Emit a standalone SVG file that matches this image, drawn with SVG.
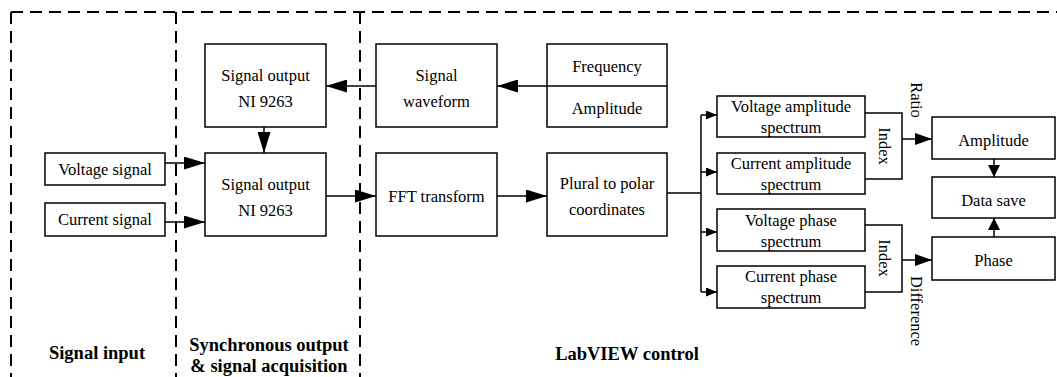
<svg xmlns="http://www.w3.org/2000/svg" width="1057" height="377" viewBox="0 0 1057 377" font-family="Liberation Serif, Times New Roman, DejaVu Serif, serif">
<style>
.box{fill:#fff;stroke:#000;stroke-width:1.5}
.t{font-size:16.5px;text-anchor:middle;fill:#000}
.b{font-size:18.5px;font-weight:bold;text-anchor:middle;fill:#000}
.c{fill:none;stroke:#000;stroke-width:1.5}
.d{fill:none;stroke:#000;stroke-width:2;stroke-dasharray:12 7}
</style>
<defs>
<marker id="big" markerUnits="userSpaceOnUse" markerWidth="21" markerHeight="13" refX="21" refY="6.5" orient="auto"><path d="M0,0 L21,6.5 L0,13 Z" fill="#000"/></marker>
<marker id="med" markerUnits="userSpaceOnUse" markerWidth="17" markerHeight="12" refX="17" refY="6" orient="auto"><path d="M0,0 L17,6 L0,12 Z" fill="#000"/></marker>
<marker id="sm" markerUnits="userSpaceOnUse" markerWidth="12" markerHeight="12" refX="12" refY="6" orient="auto"><path d="M0,0 L12,6 L0,12 Z" fill="#000"/></marker>
<marker id="tiny" markerUnits="userSpaceOnUse" markerWidth="11" markerHeight="9" refX="11" refY="4.5" orient="auto"><path d="M0,0 L11,4.5 L0,9 Z" fill="#000"/></marker>
</defs>
<rect width="1057" height="377" fill="#fff"/>
<g id="regions">
<path class="d" d="M11,12 H1057 M11,12 V377 M176,12 V377 M360,12 V377"/>
<text class="b" x="97" y="359">Signal input</text>
<text class="b" x="269" y="351">Synchronous output</text>
<text class="b" x="269" y="372">&amp; signal acquisition</text>
<text class="b" x="627" y="360">LabVIEW control</text>
</g>
<g id="n-out-top"><rect class="box" x="205" y="44" width="121" height="83"/><text class="t" x="265.5" y="81">Signal output</text><text class="t" x="265.5" y="107">NI 9263</text></g>
<g id="n-out-bot"><rect class="box" x="205" y="153" width="121" height="83"/><text class="t" x="265.5" y="190">Signal output</text><text class="t" x="265.5" y="216">NI 9263</text></g>
<g id="n-voltage"><rect class="box" x="45" y="153" width="120" height="32"/><text class="t" x="105" y="175">Voltage signal</text></g>
<g id="n-current"><rect class="box" x="45" y="203" width="120" height="33"/><text class="t" x="105" y="225">Current signal</text></g>
<g id="n-waveform"><rect class="box" x="376" y="44" width="121" height="83"/><text class="t" x="436.5" y="81">Signal</text><text class="t" x="436.5" y="107">waveform</text></g>
<g id="n-freqamp"><rect class="box" x="547" y="44" width="120" height="83"/><line class="c" x1="547" y1="86" x2="667" y2="86"/><text class="t" x="607" y="72">Frequency</text><text class="t" x="607" y="114">Amplitude</text></g>
<g id="n-fft"><rect class="box" x="376" y="153" width="121" height="83"/><text class="t" x="436.5" y="202">FFT transform</text></g>
<g id="n-polar"><rect class="box" x="547" y="153" width="120" height="83"/><text class="t" x="607" y="189">Plural to polar</text><text class="t" x="607" y="215">coordinates</text></g>
<g id="n-va"><rect class="box" x="717" y="96" width="148" height="41"/><text class="t" x="791" y="112">Voltage amplitude</text><text class="t" x="791" y="133">spectrum</text></g>
<g id="n-ca"><rect class="box" x="717" y="153" width="148" height="41"/><text class="t" x="791" y="169">Current amplitude</text><text class="t" x="791" y="190">spectrum</text></g>
<g id="n-vp"><rect class="box" x="717" y="209" width="148" height="42"/><text class="t" x="791" y="226">Voltage phase</text><text class="t" x="791" y="247">spectrum</text></g>
<g id="n-cp"><rect class="box" x="717" y="266" width="148" height="42"/><text class="t" x="791" y="282">Current phase</text><text class="t" x="791" y="303">spectrum</text></g>
<g id="n-amplitude"><rect class="box" x="932" y="117" width="123" height="42"/><text class="t" x="993.5" y="146">Amplitude</text></g>
<g id="n-datasave"><rect class="box" x="932" y="177" width="123" height="41"/><text class="t" x="993.5" y="206">Data save</text></g>
<g id="n-phase"><rect class="box" x="932" y="237" width="123" height="43"/><text class="t" x="993.5" y="266">Phase</text></g>
<g id="connectors">
<path class="c" d="M376,86 H326" marker-end="url(#big)"/>
<path class="c" d="M547,86 H497" marker-end="url(#big)"/>
<path class="c" d="M264,127 V153" marker-end="url(#big)"/>
<path class="c" d="M165,163 H205" marker-end="url(#big)"/>
<path class="c" d="M165,222 H205" marker-end="url(#big)"/>
<path class="c" d="M326,196 H376" marker-end="url(#big)"/>
<path class="c" d="M497,196 H547" marker-end="url(#big)"/>
<path class="c" d="M667,193 H701 M701,115 V292"/>
<path class="c" d="M701,115 H717" marker-end="url(#tiny)"/>
<path class="c" d="M701,172 H717" marker-end="url(#tiny)"/>
<path class="c" d="M701,232 H717" marker-end="url(#tiny)"/>
<path class="c" d="M701,292 H717" marker-end="url(#tiny)"/>
<path class="c" d="M865,113 H902 V179 H865"/>
<path class="c" d="M865,225 H902 V292 H865"/>
<path class="c" d="M902,139 H932" marker-end="url(#med)"/>
<path class="c" d="M902,260 H932" marker-end="url(#med)"/>
<path class="c" d="M994,159 V177" marker-end="url(#sm)"/>
<path class="c" d="M994,237 V218" marker-end="url(#sm)"/>
<text class="t" transform="translate(884,146) rotate(90)" dominant-baseline="central">Index</text>
<text class="t" transform="translate(884,258) rotate(90)" dominant-baseline="central">Index</text>
<text class="t" transform="translate(916,100) rotate(90)" dominant-baseline="central">Ratio</text>
<text class="t" transform="translate(916,311) rotate(90)" dominant-baseline="central">Difference</text>
</g>
</svg>
